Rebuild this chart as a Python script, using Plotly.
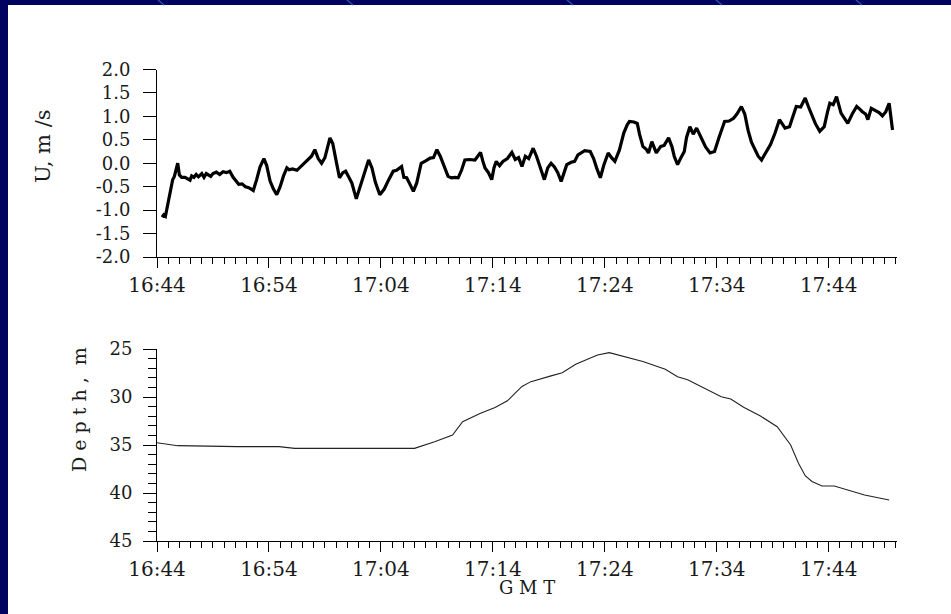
import plotly.graph_objects as go

# ---- data (minutes after 16:44) ----
u_time = [0.45,0.6,0.75,0.9,1.1,1.25,1.4,1.55,1.7,1.85,2.0,2.2,2.5,2.8,2.95,3.1,3.3,3.5,3.7,4.0,4.2,4.4,4.6,4.8,5.0,5.3,5.6,5.9,6.2,6.5,6.8,7.1,7.3,7.6,7.9,8.2,8.6,8.9,9.2,9.55,9.8,10.1,10.4,10.7,11.0,11.3,11.6,11.8,12.1,12.5,12.8,13.1,13.5,13.8,14.1,14.4,14.7,15.0,15.45,15.7,16.0,16.3,16.6,16.85,17.1,17.4,17.8,18.1,18.4,18.9,19.2,19.5,19.9,20.3,20.7,21.1,21.4,21.85,22.05,22.3,22.6,22.9,23.2,23.6,24.0,24.4,24.7,25.0,25.3,25.7,26.0,26.3,26.6,26.9,27.2,27.5,27.9,28.4,28.9,29.1,29.3,29.6,29.9,30.1,30.3,30.6,30.9,31.3,31.7,32.0,32.3,32.6,32.9,33.2,33.6,33.9,34.2,34.6,34.9,35.2,35.5,35.8,36.1,36.4,36.6,37.0,37.3,37.6,37.9,38.2,38.7,39.0,39.3,39.6,39.9,40.3,40.6,40.9,41.3,41.7,42.0,42.2,42.6,42.9,43.1,43.4,43.7,43.9,44.2,44.4,44.6,45.0,45.3,45.7,46.0,46.2,46.5,46.8,47.1,47.3,47.6,47.9,48.2,48.6,49.0,49.4,49.8,50.2,50.7,51.1,51.5,51.8,52.2,52.5,52.8,53.1,53.4,53.7,54.0,54.4,54.8,55.2,55.6,56.1,56.5,56.8,57.1,57.5,57.9,58.2,58.4,58.8,59.2,59.6,59.9,60.1,60.4,60.7,61.1,61.4,61.7,62.1,62.5,62.8,63.0,63.3,63.5,63.8,64.2,64.5,64.8,65.1,65.4,65.55,65.7]
u_speed = [-1.15,-1.10,-1.13,-0.95,-0.78,-0.55,-0.35,-0.28,-0.12,0.00,-0.25,-0.30,-0.30,-0.33,-0.36,-0.27,-0.30,-0.24,-0.29,-0.22,-0.30,-0.22,-0.26,-0.28,-0.22,-0.19,-0.24,-0.18,-0.20,-0.17,-0.30,-0.40,-0.45,-0.44,-0.50,-0.52,-0.58,-0.35,-0.08,0.10,-0.05,-0.38,-0.55,-0.67,-0.50,-0.27,-0.10,-0.14,-0.12,-0.15,-0.08,-0.02,0.08,0.15,0.29,0.10,0.00,0.12,0.54,0.42,0.05,-0.31,-0.20,-0.17,-0.28,-0.42,-0.76,-0.52,-0.30,0.07,-0.10,-0.40,-0.67,-0.55,-0.35,-0.17,-0.15,-0.07,-0.30,-0.31,-0.45,-0.60,-0.42,0.00,0.05,0.11,0.12,0.29,0.15,-0.10,-0.28,-0.31,-0.30,-0.31,-0.15,0.07,0.08,0.07,0.23,0.05,-0.10,-0.20,-0.35,-0.10,0.04,-0.05,0.04,0.10,0.23,0.08,0.12,-0.07,0.15,0.10,0.32,0.15,-0.05,-0.35,-0.10,0.00,-0.08,-0.20,-0.39,-0.15,-0.03,0.02,0.04,0.18,0.22,0.27,0.25,0.10,-0.12,-0.31,-0.05,0.22,0.12,0.04,0.28,0.65,0.82,0.89,0.88,0.85,0.62,0.36,0.30,0.22,0.46,0.35,0.22,0.36,0.38,0.54,0.35,0.15,-0.03,0.12,0.25,0.55,0.78,0.62,0.75,0.55,0.35,0.22,0.25,0.55,0.89,0.90,0.96,1.05,1.21,1.05,0.70,0.45,0.29,0.15,0.07,0.25,0.40,0.64,0.93,0.75,0.78,1.00,1.21,1.20,1.39,1.20,1.07,0.85,0.68,0.78,1.10,1.28,1.25,1.42,1.07,0.95,0.85,1.05,1.21,1.15,1.10,1.05,0.93,1.17,1.12,1.08,1.01,1.10,1.28,1.00,0.71]

depth_time = [0,1.85,7.2,10.9,12.3,23.0,24.8,26.4,27.3,28.9,30.2,31.3,32.6,33.4,35.2,36.2,37.4,39.35,40.4,41.7,43.4,45.4,46.5,47.4,48.9,50.4,51.25,52.4,53.9,55.4,56.6,57.3,57.9,58.5,59.4,60.5,63.2,65.4]
depth_m = [34.76,35.07,35.17,35.17,35.35,35.35,34.66,33.96,32.57,31.7,31.1,30.4,28.9,28.4,27.8,27.47,26.6,25.62,25.38,25.8,26.3,27.1,27.9,28.2,29.1,29.97,30.2,31.07,31.98,33.1,35.0,36.9,38.2,38.8,39.27,39.27,40.2,40.73]

x_tick_vals = [0, 10, 20, 30, 40, 50, 60]
x_tick_text = ["16:44", "16:54", "17:04", "17:14", "17:24", "17:34", "17:44"]
u_tick_vals = [2.0, 1.5, 1.0, 0.5, 0.0, -0.5, -1.0, -1.5, -2.0]
u_tick_text = ["2.0", "1.5", "1.0", "0.5", "0.0", "-0.5", "-1.0", "-1.5", "-2.0"]
depth_tick_vals = [25, 30, 35, 40, 45]

W, H = 951, 614
FONT = "DejaVu Serif"
TXT = "#1a1a1a"
NAVY = "#020260"

def px_x(p):
    return p / W

def px_y(p):
    return 1 - p / H

fig = go.Figure()
fig.add_trace(go.Scatter(x=u_time, y=u_speed, mode="lines", xaxis="x", yaxis="y",
                         line=dict(color="#000000", width=3.2), showlegend=False))
fig.add_trace(go.Scatter(x=depth_time, y=depth_m, mode="lines", xaxis="x2", yaxis="y2",
                         line=dict(color="#222222", width=1.1), showlegend=False))

xdom = [px_x(157), px_x(897)]
common_x = dict(range=[0, 66.1], showline=True, linecolor="black", linewidth=1,
                ticks="outside", ticklen=10, tickwidth=1, tickcolor="black",
                tickvals=x_tick_vals, ticktext=x_tick_text, showgrid=False, zeroline=False,
                tickfont=dict(family=FONT, size=20, color=TXT),
                minor=dict(dtick=1, tick0=0, ticks="outside", ticklen=6, tickwidth=1,
                           tickcolor="black", showgrid=False),
                domain=xdom, fixedrange=True, automargin=False)

shapes = [
    # dark blue slide border (top and left strips)
    dict(type="rect", xref="paper", yref="paper", layer="below",
         x0=0, x1=1, y0=px_y(5), y1=1, fillcolor=NAVY, line=dict(width=0)),
    dict(type="rect", xref="paper", yref="paper", layer="below",
         x0=0, x1=px_x(8), y0=0, y1=1, fillcolor=NAVY, line=dict(width=0)),
]
# faint decorative arc pieces in the top strip
for xa, xb in [(158, 164), (347, 353), (567, 573), (716, 722), (856, 862)]:
    shapes.append(dict(type="line", xref="paper", yref="paper", layer="below",
                       x0=px_x(xa), x1=px_x(xb), y0=1, y1=px_y(5),
                       line=dict(color="#2c4fa8", width=1.5)))

fig.update_layout(
    width=W, height=H,
    margin=dict(l=0, r=0, t=0, b=0, autoexpand=False),
    paper_bgcolor="white",
    plot_bgcolor="rgba(0,0,0,0)",
    showlegend=False,
    shapes=shapes,
    xaxis=dict(common_x, anchor="y"),
    yaxis=dict(domain=[px_y(257), px_y(69.5)], range=[-2, 2], anchor="x",
               showline=True, linecolor="black", linewidth=1,
               ticks="outside", ticklen=13, tickwidth=1, tickcolor="black",
               tickvals=u_tick_vals, ticktext=u_tick_text, showgrid=False, zeroline=False,
               tickfont=dict(family=FONT, size=18, color=TXT), ticklabelstandoff=9,
               fixedrange=True, automargin=False),
    xaxis2=dict(common_x, anchor="y2"),
    yaxis2=dict(domain=[px_y(541), px_y(349)], range=[45, 25], anchor="x2",
                showline=True, linecolor="black", linewidth=1,
                ticks="outside", ticklen=13, tickwidth=1, tickcolor="black",
                tickvals=depth_tick_vals, showgrid=False, zeroline=False,
                minor=dict(dtick=1, ticks="outside", ticklen=8, tickwidth=1, tickcolor="black",
                           showgrid=False),
                tickfont=dict(family=FONT, size=18, color=TXT), ticklabelstandoff=7,
                fixedrange=True, automargin=False),
    annotations=[
        dict(text="U,\u00a0m\u00a0/s", xref="paper", yref="paper", x=px_x(43), y=px_y(146),
             showarrow=False, textangle=-90, xanchor="center", yanchor="middle",
             font=dict(family=FONT, size=21, color=TXT)),
        dict(text="D\u00a0e\u00a0p\u00a0t\u00a0h\u00a0,\u00a0\u00a0m", xref="paper", yref="paper",
             x=px_x(79), y=px_y(410), showarrow=False, textangle=-90,
             xanchor="center", yanchor="middle",
             font=dict(family=FONT, size=19, color=TXT)),
        dict(text="G\u00a0M\u00a0T", xref="paper", yref="paper",
             x=px_x(527), y=px_y(587), showarrow=False,
             xanchor="center", yanchor="middle",
             font=dict(family=FONT, size=18, color=TXT)),
    ],
)

fig.write_html(
    "out.html",
    config={"displayModeBar": False},
    post_script="document.documentElement.style.overflow='hidden';"
                "document.documentElement.style.background='#ffffff';"
                "document.body.style.background='#ffffff';"
                "document.body.style.margin='0';document.body.style.overflow='hidden';",
)
